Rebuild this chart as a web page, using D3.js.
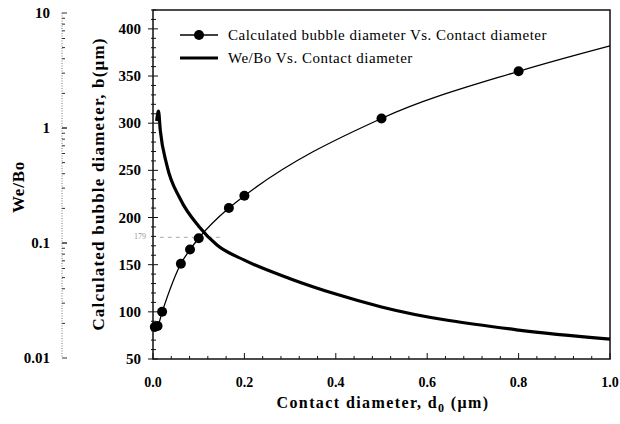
<!DOCTYPE html>
<html>
<head>
<meta charset="utf-8">
<script src="https://cdn.jsdelivr.net/npm/d3@7"></script>
<style>
  body { margin: 0; background: #fff; }
  text { font-family: "Liberation Serif", "Times New Roman", serif; }
</style>
</head>
<body>
<svg id="chart" width="620" height="424"></svg>
<script>
// bubble diameter (um) vs contact diameter (um), markers
const bubbleX = [0.004, 0.01, 0.02, 0.061, 0.081, 0.1, 0.166, 0.2, 0.5, 0.8];
const bubbleY = [84, 85, 100, 151, 166, 178, 210, 223, 305, 355];
// curve continues to the right edge without a marker
const bubbleEndX = 1.0, bubbleEndY = 382;

// We/Bo vs contact diameter (log axis)
const weboX = [0.008, 0.012, 0.016, 0.03, 0.06, 0.1, 0.14, 0.2, 0.3, 0.4, 0.5, 0.8, 1.0];
const weboY = [1.15, 1.4, 0.95, 0.48, 0.24, 0.14, 0.096, 0.071, 0.049, 0.036, 0.0278, 0.0175, 0.0146];

const xTicks = [0, 0.2, 0.4, 0.6, 0.8, 1.0];
const bubbleTicks = [50, 100, 150, 200, 250, 300, 350, 400];
const logTicks = [0.01, 0.1, 1, 10];
const logLabels = ["0.01", "0.1", "1", "10"];
const markLevel = 179;

const svg = d3.select("#chart");
const pLeft = 153, pRight = 610, pTop = 10, pBottom = 359;

const x = d3.scaleLinear().domain([0, 1]).range([pLeft, pRight]);
const yB = d3.scaleLinear().domain([50, 420]).range([pBottom, pTop]);
const yW = d3.scaleLog().domain([0.01, 10]).range([358, 13]);

// frame
svg.append("rect")
  .attr("x", pLeft).attr("y", pTop)
  .attr("width", pRight - pLeft).attr("height", pBottom - pTop)
  .attr("fill", "none").attr("stroke", "#111").attr("stroke-width", 1.5);

// bottom axis: ticks inside
const gx = svg.append("g").attr("stroke", "#111");
d3.range(0, 1.0001, 0.04).forEach(v => {
  const major = xTicks.some(t => Math.abs(t - v) < 1e-6);
  gx.append("line")
    .attr("x1", x(v)).attr("x2", x(v))
    .attr("y1", pBottom).attr("y2", pBottom - (major ? 6 : 3))
    .attr("stroke-width", 1);
});
svg.append("g").selectAll("text")
  .data(xTicks).enter().append("text")
  .attr("x", d => x(d)).attr("y", 387)
  .attr("text-anchor", "middle")
  .attr("font-size", 14).attr("font-weight", "bold")
  .text(d => d3.format(".1f")(d));

// bubble axis (on frame left edge)
const gy = svg.append("g").attr("stroke", "#111");
d3.range(50, 420.001, 10).forEach(v => {
  const major = bubbleTicks.includes(v);
  gy.append("line")
    .attr("x1", pLeft - (major ? 5 : 2)).attr("x2", pLeft + (major ? 5 : 3))
    .attr("y1", yB(v)).attr("y2", yB(v))
    .attr("stroke-width", 1);
});
svg.append("g").selectAll("text")
  .data(bubbleTicks).enter().append("text")
  .attr("x", 141).attr("y", d => yB(d) + 5)
  .attr("text-anchor", "end")
  .attr("font-size", 15).attr("font-weight", "bold")
  .text(d => d);

// log axis, detached on the far left
const axX = 62;
svg.append("line")
  .attr("x1", axX).attr("x2", axX)
  .attr("y1", yW(10)).attr("y2", yW(0.01))
  .attr("stroke", "#777").attr("stroke-width", 1)
  .attr("stroke-dasharray", "1,1.5");
const minor = [];
[0.01, 0.1, 1].forEach(d => { for (let k = 1; k <= 10; k++) minor.push(d * k); });
svg.append("g").selectAll("line")
  .data(minor).enter().append("line")
  .attr("x1", axX).attr("x2", d => logTicks.some(t => Math.abs(t - d) < 1e-9) ? axX + 5 : axX + 3)
  .attr("y1", d => yW(d)).attr("y2", d => yW(d))
  .attr("stroke", "#333").attr("stroke-width", 1);
svg.append("g").selectAll("text")
  .data(logTicks).enter().append("text")
  .attr("x", 50).attr("y", d => yW(d) + 5)
  .attr("text-anchor", "end")
  .attr("font-size", 15).attr("font-weight", "bold")
  .text((d, i) => logLabels[i]);

// dashed reference line at 179
svg.append("line")
  .attr("x1", x(0.015)).attr("x2", x(0.15))
  .attr("y1", yB(markLevel)).attr("y2", yB(markLevel))
  .attr("stroke", "#aaa").attr("stroke-width", 1)
  .attr("stroke-dasharray", "4,4");
svg.append("text")
  .attr("x", 146).attr("y", yB(markLevel) + 2)
  .attr("text-anchor", "end")
  .attr("font-size", 8).attr("fill", "#999")
  .text(markLevel);

// We/Bo thick line
const weboData = weboX.map((v, i) => [v, weboY[i]]);
svg.append("path")
  .datum(weboData)
  .attr("fill", "none").attr("stroke", "#000").attr("stroke-width", 3.2)
  .attr("stroke-linejoin", "round")
  .attr("d", d3.line().x(d => x(d[0])).y(d => yW(d[1])).curve(d3.curveMonotoneX));

// bubble curve + markers
const bubbleData = bubbleX.map((v, i) => [v, bubbleY[i]]);
svg.append("path")
  .datum(bubbleData.concat([[bubbleEndX, bubbleEndY]]))
  .attr("fill", "none").attr("stroke", "#000").attr("stroke-width", 1.3)
  .attr("d", d3.line().x(d => x(d[0])).y(d => yB(d[1])).curve(d3.curveMonotoneX));
svg.append("g").selectAll("circle")
  .data(bubbleData).enter().append("circle")
  .attr("cx", d => x(d[0])).attr("cy", d => yB(d[1]))
  .attr("r", 5).attr("fill", "#000");

// legend
const lg = svg.append("g");
lg.append("line").attr("x1", 180).attr("x2", 218).attr("y1", 35).attr("y2", 35)
  .attr("stroke", "#000").attr("stroke-width", 1.3);
lg.append("circle").attr("cx", 199).attr("cy", 35).attr("r", 5).attr("fill", "#000");
lg.append("text").attr("x", 228).attr("y", 40).attr("font-size", 15)
  .attr("letter-spacing", 0.5)
  .text("Calculated bubble diameter Vs. Contact diameter");
lg.append("line").attr("x1", 180).attr("x2", 218).attr("y1", 58).attr("y2", 58)
  .attr("stroke", "#000").attr("stroke-width", 3.2);
lg.append("text").attr("x", 228).attr("y", 63).attr("font-size", 15)
  .attr("letter-spacing", 0.5)
  .text("We/Bo Vs. Contact diameter");

// axis titles
const xt = svg.append("text")
  .attr("x", 383).attr("y", 408)
  .attr("text-anchor", "middle")
  .attr("font-size", 16).attr("font-weight", "bold")
  .attr("letter-spacing", 1.4);
xt.append("tspan").text("Contact diameter, d");
xt.append("tspan").attr("dy", 4).attr("font-size", 12).text("0");
xt.append("tspan").attr("dy", -4).text(" (\u03bcm)");

svg.append("text")
  .attr("transform", "translate(104,184) rotate(-90)")
  .attr("text-anchor", "middle")
  .attr("font-size", 17).attr("font-weight", "bold")
  .attr("font-family", "'DejaVu Sans', sans-serif")
  .attr("letter-spacing", 1.2)
  .text("Calculated bubble diameter, b(\u03bcm)");

svg.append("text")
  .attr("transform", "translate(24,187) rotate(-90)")
  .attr("text-anchor", "middle")
  .attr("font-size", 17).attr("font-weight", "bold")
  .attr("letter-spacing", 0.8)
  .text("We/Bo");
</script>
</body>
</html>
